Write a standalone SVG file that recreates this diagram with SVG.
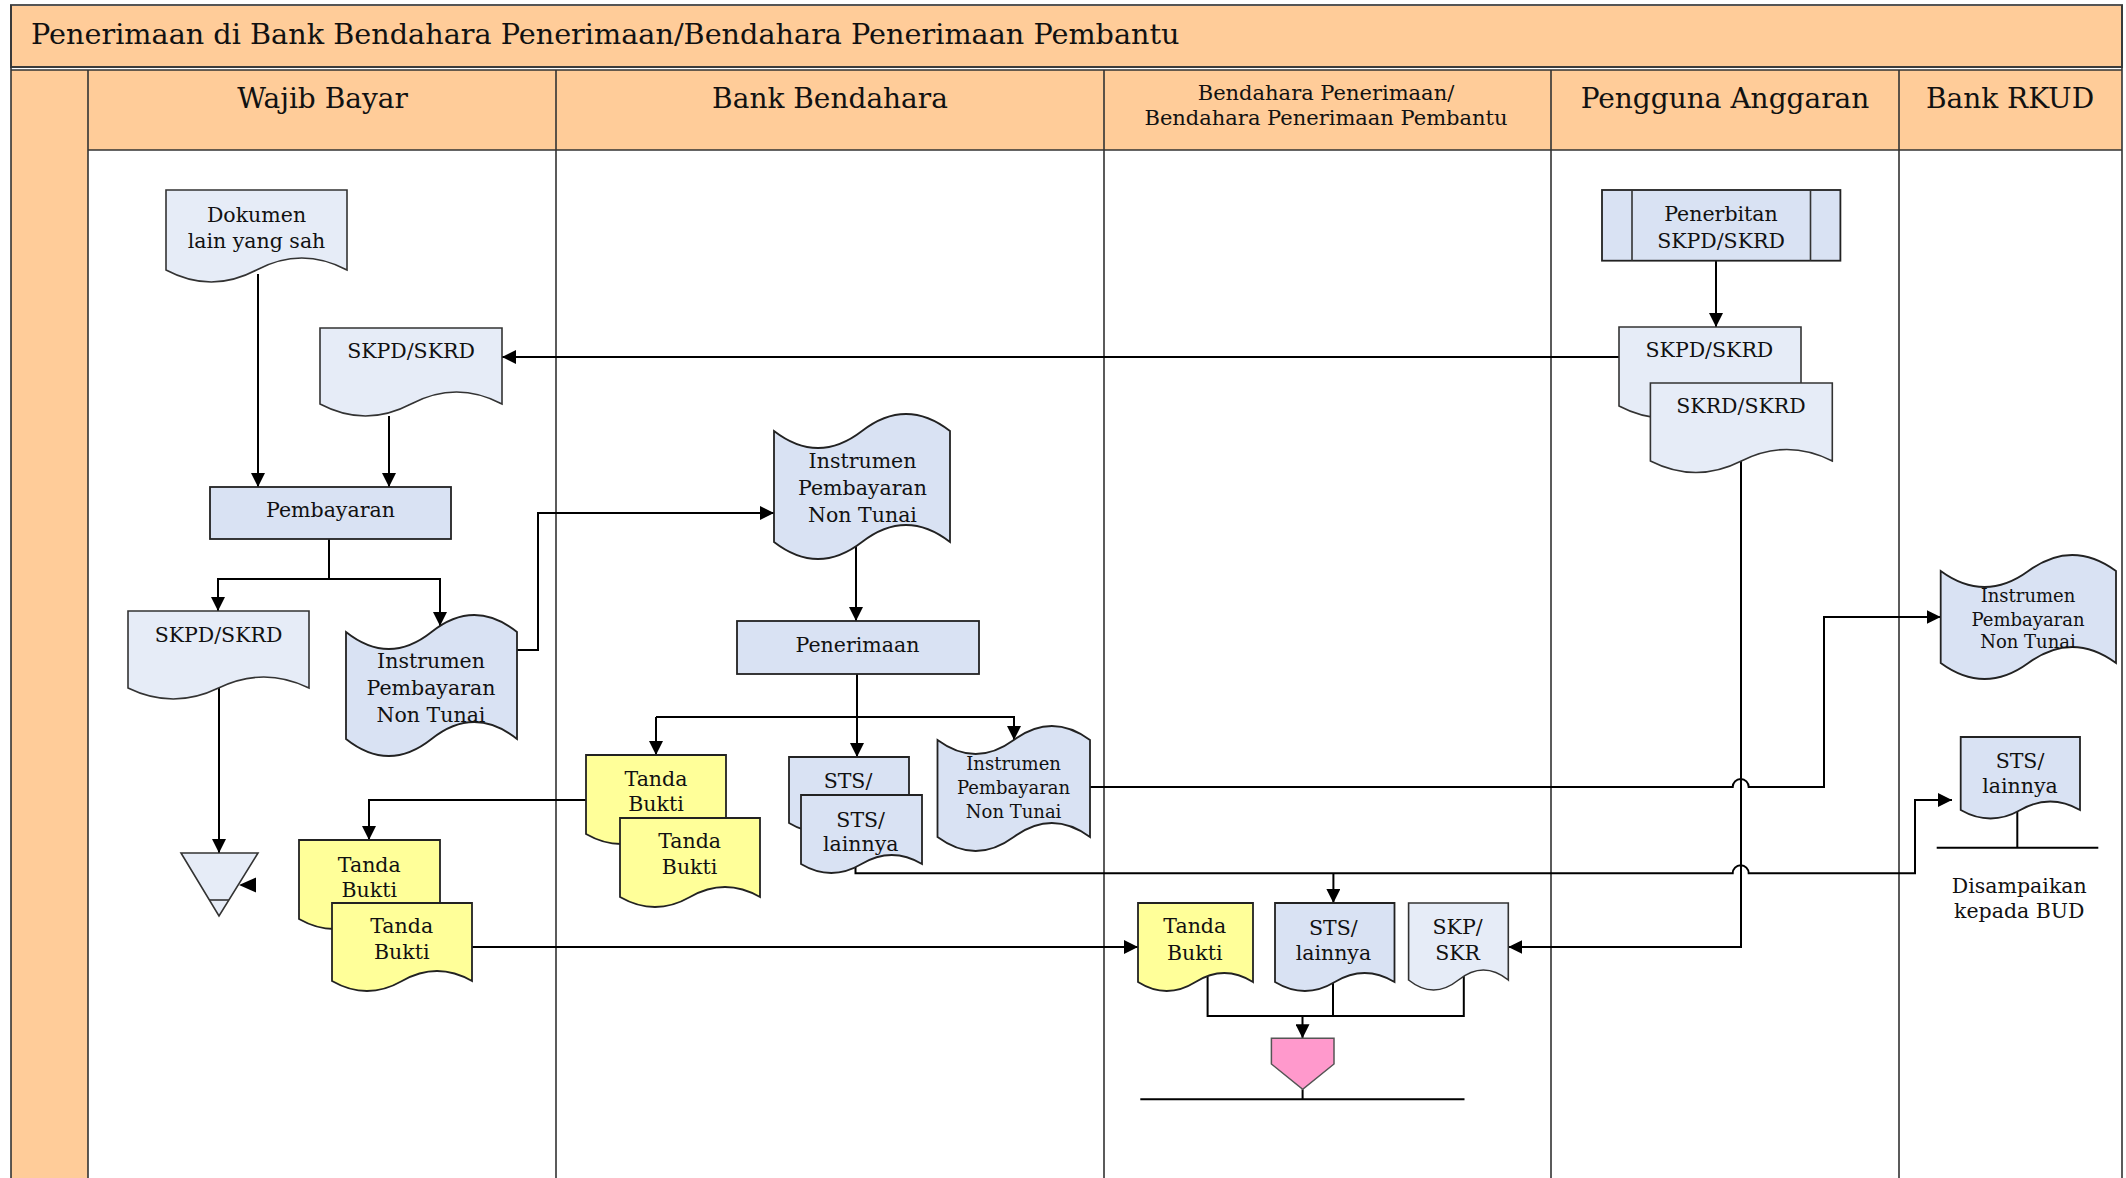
<svg xmlns="http://www.w3.org/2000/svg" width="2126" height="1178" viewBox="0 0 2126 1178">
<style>
.pe{fill:#FFCC99}
.ln{stroke:#333;stroke-width:1.6;fill:none}
.hd{font-family:"DejaVu Serif",serif;font-size:28px;fill:#111;text-anchor:middle}
.hs{font-family:"DejaVu Serif",serif;font-size:21px;fill:#111;text-anchor:middle}
.t{font-family:"DejaVu Serif",serif;font-size:20.5px;fill:#111;text-anchor:middle}
.ts{font-family:"DejaVu Serif",serif;font-size:18px;fill:#111;text-anchor:middle}
.lt{fill:#E6ECF7;stroke:#333;stroke-width:1.6}
.dk{fill:#D9E2F3;stroke:#222;stroke-width:1.8}
.ye{fill:#FFFF99;stroke:#222;stroke-width:1.8}
.pk{fill:#FF99CC;stroke:#555;stroke-width:1.5}
.c{stroke:#000;stroke-width:2;fill:none}
.a{stroke:#000;stroke-width:2;fill:none;marker-end:url(#ah)}
</style>
<defs>
<marker id="ah" viewBox="0 0 14 14" refX="14" refY="7" markerWidth="14" markerHeight="14" orient="auto" markerUnits="userSpaceOnUse"><path d="M0,0 L14,7 L0,14 Z" fill="#000"/></marker>
</defs>
<rect x="0" y="0" width="2126" height="1178" fill="#fff"/>
<g id="frame">
<rect class="pe" x="11" y="5" width="2111" height="62" stroke="#555" stroke-width="2"/>
<rect class="pe" x="88" y="70" width="2034" height="80"/>
<rect class="pe" x="11" y="70" width="77" height="1108"/>
<path class="ln" d="M11,67 H2122 M11,70 H2122 M88,150 H2122"/>
<path class="ln" d="M11,5 V1178 M2122,5 V1178 M88,70 V1178 M556,70 V1178 M1104,70 V1178 M1551,70 V1178 M1899,70 V1178"/>
<text x="31" y="43.5" font-family="DejaVu Serif, serif" font-size="28.7" fill="#111">Penerimaan di Bank Bendahara Penerimaan/Bendahara Penerimaan Pembantu</text>
<text class="hd" x="322.5" y="108">Wajib Bayar</text>
<text class="hd" x="830" y="108">Bank Bendahara</text>
<text class="hs" x="1326" y="100">Bendahara Penerimaan/</text>
<text class="hs" x="1326" y="125">Bendahara Penerimaan Pembantu</text>
<text class="hd" x="1725" y="108">Pengguna Anggaran</text>
<text class="hd" x="2010" y="108">Bank RKUD</text>
</g>
<g id="connectors">
<path class="a" d="M258,274 V487"/>
<path class="a" d="M389,416 V487"/>
<path class="a" d="M1619,357 H502"/>
<path class="a" d="M1716,261 V327"/>
<path class="c" d="M329,539 V579"/>
<path class="a" d="M329,579 H218 V611"/>
<path class="a" d="M329,579 H440 V626"/>
<path class="a" d="M517,650 H538 V513 H774"/>
<path class="a" d="M856,543 V621"/>
<path class="a" d="M857,674 V757"/>
<path class="a" d="M656,717 V755"/>
<path class="a" d="M656,717 H1014 V740"/>
<path class="a" d="M586,800 H369 V840"/>
<path class="a" d="M472,947 H1138"/>
<path class="a" d="M855.5,867 V873.3 H1732.7 A8,8 0 0 1 1748.7,873.3 H1915 V800 H1952"/>
<path class="a" d="M1333.4,873.3 V903"/>
<path class="a" d="M1090,787 H1732.7 A8,8 0 0 1 1748.7,787 H1824 V617 H1940.7"/>
<path class="a" d="M1741,461 V947 H1508.3"/>
<path class="c" d="M1207.6,977 V1016 H1463.8 V976"/>
<path class="c" d="M1333,982.5 V1016"/>
<path class="a" d="M1302.5,1016 V1038.3"/>
<path class="c" d="M1302.6,1089.3 V1099.3"/>
<path class="c" d="M1140.3,1099.3 H1464.5" stroke-width="2.2"/>
<path class="a" d="M219,688 V853"/>
<path class="c" d="M2017.3,811 V847.7" stroke-width="1.5"/>
<path class="c" d="M1936.7,847.7 H2098.3"/>
<path d="M239,885 L256,877.5 L256,892.5 Z" fill="#000"/>
</g>
<g id="n-dokumen">
<path class="lt" d="M166,190 H347 V270 Q301.75,246 256.5,270 T166,270 Z"/>
<text class="t" x="256.5" y="221.7">Dokumen</text>
<text class="t" x="256.5" y="247.7">lain yang sah</text>
</g>
<g id="n-skpd-wb1">
<path class="lt" d="M320,328 H502 V404 Q456.5,380 411,404 T320,404 Z"/>
<text class="t" x="411" y="358">SKPD/SKRD</text>
</g>
<g id="n-pembayaran">
<rect class="dk" x="210" y="487" width="241" height="52"/>
<text class="t" x="330.5" y="516.7">Pembayaran</text>
</g>
<g id="n-skpd-wb2">
<path class="lt" d="M128,611 H309 V688 Q263.75,666 218.5,688 T128,688 Z"/>
<text class="t" x="218.5" y="641.7">SKPD/SKRD</text>
</g>
<g id="n-ipnt-wb">
<path class="dk" d="M346,632 Q388.75,666 431.5,632 T517,632 V739 Q474.25,705 431.5,739 T346,739 Z"/>
<text class="t" x="431" y="668">Instrumen</text>
<text class="t" x="431" y="695">Pembayaran</text>
<text class="t" x="431" y="721.7">Non Tunai</text>
</g>
<g id="n-arsip-wb">
<path class="lt" d="M181,853 L258,853 L219,916 Z"/>
<path class="ln" d="M209.2,900 H228.8"/>
</g>
<g id="n-tanda-wb">
<path class="ye" d="M299,840 H440 V919 Q404.75,899 369.5,919 T299,919 Z"/>
<text class="t" x="369.3" y="871.7">Tanda</text>
<text class="t" x="369.3" y="896.7">Bukti</text>
<path class="ye" d="M332,903 H472 V981 Q437,961 402,981 T332,981 Z"/>
<text class="t" x="401.7" y="933.3">Tanda</text>
<text class="t" x="401.7" y="959.3">Bukti</text>
</g>
<g id="n-ipnt-bank">
<path class="dk" d="M774,431 Q818,465 862,431 T950,431 V542 Q906,508 862,542 T774,542 Z"/>
<text class="t" x="862.5" y="468">Instrumen</text>
<text class="t" x="862.5" y="495">Pembayaran</text>
<text class="t" x="862.5" y="521.7">Non Tunai</text>
</g>
<g id="n-penerimaan">
<rect class="dk" x="737" y="621" width="242" height="53"/>
<text class="t" x="857.5" y="651.7">Penerimaan</text>
</g>
<g id="n-tanda-bank">
<path class="ye" d="M586,755 H726 V834 Q691,814 656,834 T586,834 Z"/>
<text class="t" x="656" y="786">Tanda</text>
<text class="t" x="656" y="811">Bukti</text>
<path class="ye" d="M620,818 H760 V897 Q725,877 690,897 T620,897 Z"/>
<text class="t" x="689.6" y="847.7">Tanda</text>
<text class="t" x="689.6" y="874.3">Bukti</text>
</g>
<g id="n-sts-bank">
<path class="dk" d="M789,757 H909 V823 Q879,805 849,823 T789,823 Z"/>
<text class="t" x="848" y="788">STS/</text>
<path class="dk" d="M801,795 H922 V864 Q891.75,846 861.5,864 T801,864 Z"/>
<text class="t" x="860.7" y="826.7">STS/</text>
<text class="t" x="860.7" y="851">lainnya</text>
</g>
<g id="n-ipnt-bank2">
<path class="dk" d="M937.5,740 Q975.6,768 1013.75,740 T1090,740 V837 Q1051.9,809 1013.75,837 T937.5,837 Z"/>
<text class="ts" x="1013.6" y="770">Instrumen</text>
<text class="ts" x="1013.6" y="794.3">Pembayaran</text>
<text class="ts" x="1013.6" y="817.7">Non Tunai</text>
</g>
<g id="n-tanda-bend">
<path class="ye" d="M1138,903 H1253 V982 Q1224.25,964 1195.5,982 T1138,982 Z"/>
<text class="t" x="1194.8" y="933.3">Tanda</text>
<text class="t" x="1194.8" y="960">Bukti</text>
</g>
<g id="n-sts-bend">
<path class="dk" stroke-width="2.8" d="M1275,903 H1394.5 V982 Q1364.6,964 1334.75,982 T1275,982 Z"/>
<text class="t" x="1333.4" y="935">STS/</text>
<text class="t" x="1333.4" y="960">lainnya</text>
</g>
<g id="n-skp-bend">
<path class="lt" d="M1408.6,903 H1508.3 V980 Q1483.4,960 1458.45,980 T1408.6,980 Z"/>
<text class="t" x="1457.6" y="934">SKP/</text>
<text class="t" x="1457.6" y="960">SKR</text>
</g>
<g id="n-offpage">
<path class="pk" d="M1271.4,1038.3 H1334 V1064 L1302.7,1089.3 L1271.4,1064 Z"/>
</g>
<g id="n-penerbitan">
<rect class="dk" x="1602" y="190" width="238.4" height="70.7"/>
<path class="ln" d="M1632,190 V260.7 M1810.5,190 V260.7"/>
<text class="t" x="1721" y="221">Penerbitan</text>
<text class="t" x="1721" y="247.7">SKPD/SKRD</text>
</g>
<g id="n-skpd-pa">
<path class="lt" d="M1619,327 H1801 V406 Q1755.5,382 1710,406 T1619,406 Z"/>
<text class="t" x="1709.4" y="356.7">SKPD/SKRD</text>
<path class="lt" d="M1650.4,383 H1832.3 V461 Q1786.8,438 1741.35,461 T1650.4,461 Z"/>
<text class="t" x="1741" y="412.7">SKRD/SKRD</text>
</g>
<g id="n-ipnt-rkud">
<path class="dk" d="M1940.7,571 Q1984.5,603 2028.35,571 T2116,571 V663 Q2072.2,631 2028.35,663 T1940.7,663 Z"/>
<text class="ts" x="2028" y="601.7">Instrumen</text>
<text class="ts" x="2028" y="626">Pembayaran</text>
<text class="ts" x="2028" y="648.3">Non Tunai</text>
</g>
<g id="n-sts-rkud">
<path class="dk" d="M1960.7,737 H2080 V810 Q2050.2,793 2020.35,810 T1960.7,810 Z"/>
<text class="t" x="2020" y="768.3">STS/</text>
<text class="t" x="2020" y="792.7">lainnya</text>
</g>
<g id="n-bud">
<text class="t" x="2019.3" y="892.7">Disampaikan</text>
<text class="t" x="2019.3" y="918.3">kepada BUD</text>
</g>
</svg>
